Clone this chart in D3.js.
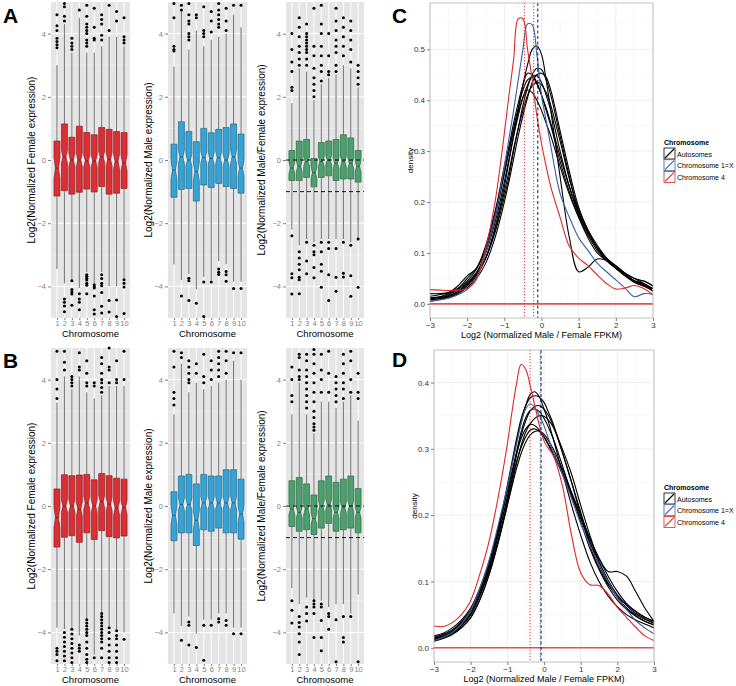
<!DOCTYPE html>
<html><head><meta charset="utf-8">
<script src="https://cdn.jsdelivr.net/npm/d3@7"></script>
<style>body{margin:0;background:#fff;} svg text{font-family:"Liberation Sans",Arial,Helvetica,sans-serif;}</style>
</head><body><svg id="chart" width="736" height="686"></svg>
<script>
const chromosomes = ["1","2","3","4","5","6","7","8","9","10"];
const boxYTicks = [-4,-2,0,2,4];
const boxYMinor = [-3,-1,1,3];
// box stats per chromosome: [lowerWhisker, q1, median, q3, upperWhisker, notchHalf]
const femaleA = [[-3.45,-1.14,-0.26,0.6,3.0,0.32],[-3.9,-0.97,0.1,1.14,4.3,0.2],[-3.8,-1.08,0.0,0.72,3.4,0.22],[-4.05,-1.02,0.0,1.07,4.5,0.22],[-3.55,-0.92,-0.03,0.87,3.4,0.18],[-3.9,-1.01,-0.03,0.8,3.4,0.2],[-3.55,-0.84,0.1,1.03,3.6,0.18],[-4.0,-1.08,0.02,0.97,3.9,0.22],[-4.0,-1.05,-0.05,0.9,3.9,0.25],[-3.75,-0.9,-0.1,0.87,3.6,0.25]];
const femaleAOut = [[3.55,3.65,3.75,3.85,4.1,4.25,4.6],[4.4,4.55,4.85,4.95,-4.4,-4.5,-4.62,-4.8],[3.5,3.6,3.7,3.85,-3.82,-4.1,-4.18,-4.24,-4.6],[4.75,-4.23,-4.4,-4.5,-4.74],[3.6,3.7,3.8,4.0,4.1,4.2,4.3,4.55,4.9,-3.63,-3.68,-3.74,-3.8,-3.9,-3.96,-4.23],[3.8,3.85,4.2,4.8,-3.95,-4.0,-4.05,-4.3,-4.74,-4.87],[3.8,3.95,4.3,4.45,4.6,-3.63,-3.75,-3.9,-3.98,-4.19,-4.63,-4.84],[4.1,4.9,-4.45,-4.81],[4.4,4.7,-4.43,-4.95],[3.7,3.8,3.9,4.5,-3.79,-3.9,-4.02,-4.86]];
const maleA = [[-3.3,-1.18,-0.32,0.5,2.95,0.3],[-3.8,-0.93,0.1,1.21,4.7,0.22],[-3.6,-0.9,0.0,0.9,3.5,0.2],[-4.1,-1.3,-0.37,0.58,4.1,0.3],[-3.7,-0.79,0.08,1.0,3.6,0.2],[-3.8,-0.87,0.05,0.86,3.8,0.2],[-3.2,-0.74,0.08,0.97,3.9,0.2],[-3.3,-0.84,0.0,1.03,4.0,0.2],[-3.85,-0.9,0.1,1.14,4.6,0.22],[-3.85,-1.05,-0.26,0.82,4.2,0.25]];
const maleAOut = [[3.45,3.5,3.6,4.5,4.95],[4.75,4.9,-4.3],[3.8,3.9,4.0,4.3,4.4,4.6,4.95,-3.74,-3.82,-4.45],[4.5,4.6,-4.53],[3.9,4.0,4.1,4.85,-3.86,-4.95],[4.05,4.4,4.7,-3.86],[4.2,4.3,4.45,4.6,4.75,4.95,-3.45,-3.55,-3.62],[4.1,4.4,4.8,-3.53,-3.63,-3.84],[4.9,-4.07],[4.9,-4.07]];
const ratioA = [[-2.2,-0.65,-0.25,0.3,1.8,0.2],[-2.7,-0.65,-0.2,0.6,2.9,0.18],[-2.5,-0.55,-0.05,0.65,2.8,0.15],[-2.6,-0.85,-0.4,0.05,1.9,0.2],[-2.5,-0.55,-0.05,0.55,2.4,0.16],[-2.5,-0.5,0.0,0.6,2.6,0.16],[-2.5,-0.65,-0.1,0.65,2.7,0.18],[-2.5,-0.6,-0.05,0.8,3.0,0.18],[-2.6,-0.6,-0.1,0.7,2.9,0.18],[-2.5,-0.7,-0.2,0.3,2.3,0.18]];
const ratioAOut = [[2.2,2.3,2.8,3.1,3.5,4.0,-2.4,-3.6,-3.73,-4.24],[3.0,3.2,3.4,3.6,3.9,4.2,4.5,-2.9,-3.1,-3.3,-3.47,-3.71,-3.79,-4.23],[3.0,3.2,3.4,3.5,3.6,3.7,3.8,3.9,4.0,4.3,-2.6,-3.2,-3.6],[2.0,2.2,2.4,2.6,2.9,3.3,3.6,4.8,-2.7,-2.9,-3.0,-3.4,-3.73],[2.5,2.8,3.0,3.3,3.6,4.0,4.3,4.9,-2.6,-2.9,-3.3,-3.52,-4.03],[2.7,2.8,3.3,4.0,-2.6,-2.8,-3.63,-4.45],[2.8,3.0,3.4,3.6,3.8,4.1,4.4,4.8,-2.8,-3.71,-4.15],[3.3,3.6,3.9,4.2,4.5,-2.6,-3.58,-3.7],[3.1,3.5,3.8,4.1,4.4,-2.7,-3.66,-4.31],[2.4,2.6,2.8,3.0,-2.5,-4.03]];
const femaleB = [[-3.85,-1.3,-0.36,0.54,3.27,0.32],[-3.9,-0.99,0.0,0.99,4.1,0.2],[-3.85,-0.94,0.0,0.96,3.7,0.2],[-4.1,-1.15,-0.1,0.98,4.1,0.22],[-3.6,-0.85,0.1,1.0,3.6,0.2],[-4.7,-1.06,0.0,0.83,3.4,0.22],[-3.4,-0.78,0.14,1.03,3.5,0.2],[-3.8,-0.97,0.06,0.96,3.8,0.22],[-3.9,-1.01,-0.07,0.88,3.8,0.22],[-4.0,-0.95,-0.05,0.85,3.8,0.22]];
const femaleBOut = [[3.4,3.7,4.0,4.9,-4.5,-4.6,-4.7,-4.9],[4.3,4.55,4.9,-4.0,-4.15,-4.3,-4.45,-4.6,-4.75,-4.9],[3.8,3.9,4.0,4.1,-3.9,-4.05,-4.2,-4.35,-4.5,-4.65,-4.8,-4.95],[4.3,4.4,4.85,-4.4,-4.5,-4.6],[3.8,3.9,4.2,4.6,-3.6,-3.7,-3.8,-3.9,-4.0,-4.1,-4.3,-4.5,-4.7,-4.85,-4.95],[3.8,3.9,-4.8],[3.6,3.75,3.9,4.0,4.2,4.5,4.7,-3.4,-3.5,-3.6,-3.7,-3.8,-3.9,-4.0,-4.1,-4.2,-4.3,-4.5,-4.8],[3.9,4.3,4.4,5.0,-3.85,-4.0,-4.2,-4.4,-4.6,-4.8,-4.95],[3.9,4.0,4.6,-3.95,-4.1,-4.2,-4.4,-4.6,-4.8,-4.95],[4.0,4.9,-4.22]];
const maleB = [[-3.4,-1.1,-0.3,0.45,2.9,0.3],[-3.8,-0.85,0.05,0.95,4.5,0.2],[-3.5,-0.85,0.05,1.0,3.6,0.2],[-4.04,-1.25,-0.45,0.7,3.9,0.3],[-3.6,-0.75,0.1,1.0,3.7,0.2],[-3.6,-0.8,0.1,0.95,3.8,0.2],[-3.4,-0.7,0.1,0.95,3.9,0.2],[-3.4,-0.85,0.1,1.15,4.0,0.2],[-3.85,-0.85,0.1,1.15,4.6,0.22],[-3.85,-1.05,-0.25,0.85,4.0,0.25]];
const maleBOut = [[3.2,3.4,3.6,4.4,4.9],[4.7,4.85,-4.25],[3.9,4.0,4.2,4.4,4.6,-3.67,-3.77,-4.4],[4.2,4.5,-4.48],[3.9,4.1,4.8,-3.77,-4.88],[4.0,4.3,4.6,-3.77],[4.1,4.3,4.5,4.7,4.9,-3.57,-3.67],[4.2,4.6,4.9,-3.62,-3.77],[4.85,-4.04],[4.85,-4.04]];
const ratioB = [[-2.6,-0.65,-0.1,0.8,2.9,0.18],[-3.1,-0.8,-0.2,0.9,3.9,0.18],[-2.9,-0.75,-0.1,0.7,2.9,0.18],[-3.0,-0.9,-0.4,0.35,2.3,0.2],[-3.0,-0.7,0.0,0.8,3.3,0.18],[-3.2,-0.55,0.05,0.95,3.3,0.18],[-3.1,-0.8,-0.2,0.75,3.1,0.18],[-3.1,-0.75,-0.05,0.85,3.3,0.18],[-3.4,-0.7,0.0,0.95,3.5,0.18],[-2.8,-0.85,-0.2,0.55,2.7,0.18]];
const ratioBOut = [[3.3,3.5,4.0,4.4,-3.0,-3.3,-3.7],[4.0,4.1,4.3,4.7,4.8,-3.5,-3.69,-3.83,-4.04,-4.3,-4.7],[3.1,3.3,3.5,3.7,3.9,4.1,4.3,4.6,4.8,-3.2,-3.4,-3.64],[2.4,2.5,2.6,2.8,3.0,3.3,3.6,3.9,4.2,4.5,4.8,4.95,-3.0,-3.1,-3.2,-3.4,-4.16],[3.6,4.0,4.3,4.8,-3.1,-3.2,-3.62,-4.16,-4.58],[3.6,4.2,4.9,-3.4,-3.5,-3.9],[3.3,3.5,3.7,3.9,4.1,-3.6,-4.93],[3.4,3.7,3.9,4.2,4.5,4.8,-3.5,-4.16,-4.3],[3.6,4.0,4.6,4.9,-3.5],[3.4,3.6,4.2,-4.93]];

// density panels
const densX = [-3,-2.75,-2.5,-2.25,-2,-1.75,-1.5,-1.25,-1,-0.875,-0.75,-0.625,-0.5,-0.375,-0.25,-0.125,0,0.125,0.25,0.5,0.75,1,1.25,1.5,1.75,2,2.25,2.5,2.75,3];
const densXTicks = [-3,-2,-1,0,1,2,3];
const densCYTicks = [0,0.1,0.2,0.3,0.4,0.5];
const densDYTicks = [0,0.1,0.2,0.3,0.4];
const densCAuto = [
 [0.008,0.01,0.014,0.022,0.035,0.055,0.09,0.15,0.23,0.28,0.33,0.38,0.43,0.47,0.5,0.507,0.49,0.44,0.38,0.25,0.13,0.063,0.072,0.088,0.085,0.07,0.055,0.044,0.036,0.03],
 [0.01,0.012,0.016,0.025,0.04,0.06,0.09,0.14,0.21,0.25,0.3,0.345,0.39,0.425,0.45,0.463,0.46,0.44,0.41,0.33,0.25,0.18,0.14,0.11,0.085,0.07,0.058,0.045,0.038,0.03],
 [0.012,0.014,0.02,0.03,0.045,0.068,0.11,0.18,0.27,0.31,0.355,0.395,0.43,0.453,0.45,0.435,0.41,0.38,0.35,0.28,0.22,0.17,0.13,0.1,0.085,0.075,0.06,0.045,0.04,0.025],
 [0.015,0.018,0.022,0.035,0.055,0.07,0.115,0.18,0.26,0.3,0.34,0.375,0.405,0.42,0.415,0.4,0.38,0.355,0.33,0.27,0.215,0.17,0.135,0.105,0.085,0.07,0.058,0.045,0.045,0.035],
 [0.01,0.013,0.018,0.028,0.042,0.062,0.1,0.16,0.24,0.285,0.33,0.37,0.405,0.43,0.447,0.448,0.435,0.41,0.38,0.3,0.23,0.175,0.14,0.11,0.09,0.075,0.06,0.05,0.04,0.03],
 [0.02,0.02,0.022,0.03,0.05,0.07,0.105,0.17,0.255,0.3,0.345,0.385,0.42,0.44,0.445,0.432,0.41,0.385,0.355,0.29,0.23,0.18,0.14,0.11,0.09,0.07,0.055,0.045,0.035,0.025],
 [0.008,0.01,0.015,0.024,0.038,0.058,0.09,0.145,0.22,0.26,0.305,0.345,0.38,0.41,0.428,0.435,0.43,0.415,0.39,0.32,0.245,0.185,0.145,0.115,0.09,0.072,0.06,0.05,0.045,0.035],
 [0.005,0.008,0.012,0.02,0.032,0.05,0.08,0.13,0.2,0.24,0.285,0.33,0.37,0.405,0.435,0.45,0.453,0.445,0.42,0.34,0.26,0.19,0.145,0.11,0.088,0.07,0.055,0.042,0.035,0.03]];
const densCX1 = [0.005,0.008,0.011,0.018,0.028,0.052,0.1,0.17,0.27,0.325,0.38,0.44,0.5,0.55,0.548,0.49,0.41,0.36,0.31,0.217,0.17,0.13,0.105,0.08,0.063,0.047,0.031,0.014,0.02,0.019];
const densCChr4 = [0.028,0.027,0.026,0.027,0.03,0.048,0.11,0.2,0.335,0.41,0.48,0.56,0.56,0.5,0.44,0.37,0.315,0.27,0.23,0.17,0.113,0.09,0.075,0.057,0.04,0.029,0.031,0.036,0.03,0.018];
const densDAuto = [
 [0.012,0.016,0.022,0.033,0.05,0.08,0.12,0.175,0.24,0.275,0.31,0.34,0.365,0.382,0.386,0.378,0.36,0.34,0.315,0.265,0.215,0.17,0.13,0.1,0.078,0.062,0.05,0.042,0.036,0.03],
 [0.015,0.02,0.027,0.038,0.055,0.085,0.125,0.18,0.245,0.28,0.315,0.345,0.365,0.377,0.38,0.378,0.37,0.355,0.338,0.295,0.25,0.205,0.16,0.125,0.097,0.076,0.06,0.05,0.043,0.037],
 [0.01,0.014,0.02,0.03,0.045,0.072,0.11,0.16,0.22,0.255,0.29,0.32,0.342,0.357,0.364,0.365,0.36,0.35,0.335,0.295,0.25,0.2,0.155,0.12,0.095,0.078,0.065,0.055,0.046,0.04],
 [0.014,0.018,0.025,0.036,0.052,0.08,0.118,0.168,0.228,0.262,0.295,0.325,0.347,0.358,0.36,0.356,0.346,0.332,0.316,0.275,0.232,0.19,0.15,0.118,0.092,0.072,0.058,0.048,0.04,0.034],
 [0.018,0.022,0.03,0.042,0.06,0.09,0.13,0.18,0.235,0.265,0.293,0.315,0.33,0.337,0.335,0.328,0.318,0.305,0.292,0.262,0.228,0.195,0.16,0.13,0.102,0.08,0.064,0.052,0.044,0.038],
 [0.016,0.02,0.027,0.04,0.057,0.086,0.125,0.172,0.225,0.254,0.28,0.302,0.318,0.328,0.33,0.326,0.318,0.307,0.295,0.265,0.232,0.2,0.165,0.135,0.108,0.085,0.067,0.055,0.046,0.04],
 [0.013,0.017,0.024,0.035,0.05,0.078,0.115,0.162,0.215,0.243,0.27,0.293,0.31,0.321,0.326,0.327,0.322,0.312,0.3,0.27,0.235,0.2,0.165,0.135,0.115,0.115,0.108,0.085,0.06,0.04],
 [0.011,0.015,0.021,0.031,0.046,0.073,0.11,0.158,0.215,0.247,0.278,0.305,0.325,0.338,0.346,0.35,0.349,0.343,0.333,0.3,0.262,0.215,0.17,0.13,0.1,0.077,0.06,0.048,0.04,0.035]];
const densDX1 = [0.011,0.016,0.023,0.036,0.056,0.09,0.131,0.185,0.242,0.275,0.307,0.338,0.36,0.368,0.362,0.35,0.335,0.315,0.295,0.262,0.225,0.187,0.155,0.126,0.1,0.076,0.058,0.041,0.03,0.021];
const densDChr4 = [0.033,0.032,0.038,0.05,0.071,0.111,0.16,0.227,0.307,0.355,0.398,0.427,0.42,0.395,0.365,0.335,0.312,0.3,0.29,0.245,0.17,0.113,0.095,0.094,0.081,0.061,0.046,0.031,0.018,0.011];
// vertical reference lines (medians): [autosomes, 1=X, chr4]
const vlinesC = [-0.1,-0.21,-0.46];
const vlinesD = [-0.08,-0.1,-0.38];
const legendLabels = ["Autosomes","Chromosome 1=X","Chromosome 4"];
const legendColors = ["#000000","#3B5DA6","#E0262C"];

const svg = d3.select("#chart");
svg.append("rect").attr("width",736).attr("height",686).attr("fill","#fff");

function boxPanel(x0,x1,yTop,yBot,stats,outs,fill,title,titleX,dashed){
  const x = d3.scalePoint().domain(chromosomes).range([x0,x1]).padding(0.8);
  const y = d3.scaleLinear().domain([-5,5]).range([yBot,yTop]);
  const g = svg.append("g");
  g.append("rect").attr("x",x0).attr("y",yTop).attr("width",x1-x0).attr("height",yBot-yTop).attr("fill","#E5E5E5");
  g.selectAll(".mn").data(boxYMinor).enter().append("line").attr("x1",x0).attr("x2",x1).attr("y1",d=>y(d)).attr("y2",d=>y(d)).attr("stroke","#F2F2F2").attr("stroke-width",0.5);
  g.selectAll(".mj").data(boxYTicks).enter().append("line").attr("x1",x0).attr("x2",x1).attr("y1",d=>y(d)).attr("y2",d=>y(d)).attr("stroke","#fff").attr("stroke-width",1);
  g.selectAll(".vg").data(chromosomes).enter().append("line").attr("x1",d=>x(d)).attr("x2",d=>x(d)).attr("y1",yTop).attr("y2",yBot).attr("stroke","#fff").attr("stroke-width",1);
  const bw = x.step()*0.8;
  const stroke = d3.color(fill).darker(1.3).formatHex();
  chromosomes.forEach((c,i)=>{
    const [lo,q1,md,q3,hi,nh] = stats[i];
    const cx = x(c), xl = cx-bw/2, xr = cx+bw/2, ind = bw*0.25;
    g.append("line").attr("x1",cx).attr("x2",cx).attr("y1",y(hi)).attr("y2",y(q3)).attr("stroke","#4d4d4d").attr("stroke-width",0.8);
    g.append("line").attr("x1",cx).attr("x2",cx).attr("y1",y(q1)).attr("y2",y(lo)).attr("stroke","#4d4d4d").attr("stroke-width",0.8);
    const pts = [[xl,y(q3)],[xl,y(md+nh)],[xl+ind,y(md)],[xl,y(md-nh)],[xl,y(q1)],[xr,y(q1)],[xr,y(md-nh)],[xr-ind,y(md)],[xr,y(md+nh)],[xr,y(q3)]];
    g.append("path").attr("d",d3.line()(pts)+"Z").attr("fill",fill).attr("stroke",stroke).attr("stroke-width",0.7);
    g.append("line").attr("x1",xl+ind).attr("x2",xr-ind).attr("y1",y(md)).attr("y2",y(md)).attr("stroke",stroke).attr("stroke-width",1.2);
    g.selectAll(null).data(outs[i]).enter().append("circle").attr("cx",cx).attr("cy",d=>y(d)).attr("r",1.5).attr("fill","#000");
  });
  if(dashed){
    dashed.forEach(v=>g.append("line").attr("x1",x0).attr("x2",x1).attr("y1",y(v)).attr("y2",y(v)).attr("stroke","#000").attr("stroke-width",0.9).attr("stroke-dasharray","4,3"));
  }
  const ay = g.append("g").attr("transform",`translate(${x0},0)`).call(d3.axisLeft(y).tickValues(boxYTicks).tickSize(3).tickPadding(2).tickFormat(d=>d<0?"\u2212"+Math.abs(d):d));
  const ax = g.append("g").attr("transform",`translate(0,${yBot})`).call(d3.axisBottom(x).tickSize(2).tickPadding(1));
  [ay,ax].forEach(a=>{a.select(".domain").remove(); a.selectAll("line").attr("stroke","#7f7f7f"); a.selectAll("text").attr("fill","#7f7f7f").style("font-size","7.5px");});
  g.append("text").attr("x",(x0+x1)/2).attr("y",yBot+19).attr("text-anchor","middle").style("font-size","9.5px").text("Chromosome");
  g.append("text").attr("transform",`translate(${titleX},${(yTop+yBot)/2}) rotate(-90)`).attr("text-anchor","middle").style("font-size","10px").text(title);
}

const rowA = [2,318], rowB = [348,664];
boxPanel(51,130,rowA[0],rowA[1],femaleA,femaleAOut,"#D93036","Log2(Normalized Female expression)",35,null);
boxPanel(168,247,rowA[0],rowA[1],maleA,maleAOut,"#36A3D6","Log2(Normalized Male expression)",152,null);
boxPanel(286,364,rowA[0],rowA[1],ratioA,ratioAOut,"#4BA06E","Log2(Normalized Male/Female expression)",265,[0,-1]);
boxPanel(51,130,rowB[0],rowB[1],femaleB,femaleBOut,"#D93036","Log2(Normalized Female expression)",35,null);
boxPanel(168,247,rowB[0],rowB[1],maleB,maleBOut,"#36A3D6","Log2(Normalized Male expression)",152,null);
boxPanel(286,364,rowB[0],rowB[1],ratioB,ratioBOut,"#4BA06E","Log2(Normalized Male/Female expression)",265,[0,-1]);

function densPanel(x0,x1,yTop,yBot,yDom,yTicks,auto,x1c,chr4,vl,legY,id){
  const x = d3.scaleLinear().domain([-3,3]).range([x0,x1]);
  const y = d3.scaleLinear().domain(yDom).range([yBot,yTop]);
  const g = svg.append("g");
  g.append("clipPath").attr("id",id).append("rect").attr("x",x0).attr("y",yTop).attr("width",x1-x0).attr("height",yBot-yTop);
  g.append("rect").attr("x",x0).attr("y",yTop).attr("width",x1-x0).attr("height",yBot-yTop).attr("fill","#fff");
  const xMinor = d3.range(-2.5,3,1), yMinor = yTicks.map(d=>d+0.05).filter(d=>d<yDom[1]);
  xMinor.forEach(v=>g.append("line").attr("x1",x(v)).attr("x2",x(v)).attr("y1",yTop).attr("y2",yBot).attr("stroke","#F5F5F5").attr("stroke-width",0.6));
  yMinor.forEach(v=>g.append("line").attr("x1",x0).attr("x2",x1).attr("y1",y(v)).attr("y2",y(v)).attr("stroke","#F5F5F5").attr("stroke-width",0.6));
  densXTicks.forEach(v=>g.append("line").attr("x1",x(v)).attr("x2",x(v)).attr("y1",yTop).attr("y2",yBot).attr("stroke","#EBEBEB").attr("stroke-width",0.8));
  yTicks.forEach(v=>g.append("line").attr("x1",x0).attr("x2",x1).attr("y1",y(v)).attr("y2",y(v)).attr("stroke","#EBEBEB").attr("stroke-width",0.8));
  const line = d3.line().x((d,i)=>x(densX[i])).y(d=>y(d)).curve(d3.curveCatmullRom.alpha(0.5));
  const cg = g.append("g").attr("clip-path",`url(#${id})`);
  auto.forEach(s=>cg.append("path").attr("d",line(s)).attr("fill","none").attr("stroke","#000").attr("stroke-width",1.1));
  cg.append("path").attr("d",line(x1c)).attr("fill","none").attr("stroke",legendColors[1]).attr("stroke-width",1.1);
  cg.append("path").attr("d",line(chr4)).attr("fill","none").attr("stroke",legendColors[2]).attr("stroke-width",1.1);
  cg.append("line").attr("x1",x0).attr("x2",x1).attr("y1",y(0)).attr("y2",y(0)).attr("stroke","#E0262C").attr("stroke-width",1.6).attr("stroke-opacity",0.8);
  vl.forEach((v,i)=>cg.append("line").attr("x1",x(v)).attr("x2",x(v)).attr("y1",yTop).attr("y2",yBot).attr("stroke",legendColors[i]).attr("stroke-width",0.9).attr("stroke-dasharray",i===0?"3,2.5":"1.3,1.7"));
  g.append("rect").attr("x",x0).attr("y",yTop).attr("width",x1-x0).attr("height",yBot-yTop).attr("fill","none").attr("stroke","#B3B3B3").attr("stroke-width",0.8);
  const ay = g.append("g").attr("transform",`translate(${x0},0)`).call(d3.axisLeft(y).tickValues(yTicks).tickSize(3).tickPadding(2).tickFormat(d3.format(".1f")));
  const ax = g.append("g").attr("transform",`translate(0,${yBot})`).call(d3.axisBottom(x).tickValues(densXTicks).tickSize(3).tickPadding(1).tickFormat(d=>d<0?"\u2212"+Math.abs(d):d));
  [ay,ax].forEach(a=>{a.select(".domain").remove(); a.selectAll("line").attr("stroke","#7f7f7f"); a.selectAll("text").attr("fill","#333").style("font-size","8px");});
  g.append("text").attr("x",(x0+x1)/2).attr("y",yBot+20).attr("text-anchor","middle").style("font-size","9px").text("Log2 (Normalized Male / Female FPKM)");
  g.append("text").attr("transform",`translate(${x0-17},${(yTop+yBot)/2}) rotate(-90)`).attr("text-anchor","middle").style("font-size","8px").text("density");
  // legend
  const lx = 664;
  g.append("text").attr("x",lx).attr("y",legY).style("font-size","7px").style("font-weight","bold").text("Chromosome");
  legendLabels.forEach((lab,i)=>{
    const ky = legY+3+i*11.7;
    g.append("rect").attr("x",lx).attr("y",ky).attr("width",11).attr("height",11).attr("fill","#fff").attr("stroke",legendColors[i]).attr("stroke-width",0.8);
    g.append("line").attr("x1",lx+1).attr("y1",ky+10).attr("x2",lx+10).attr("y2",ky+1).attr("stroke",legendColors[i]).attr("stroke-width",1.1);
    g.append("text").attr("x",lx+13).attr("y",ky+8.5).style("font-size","7px").text(lab);
  });
}
densPanel(430,653,3,318,[-0.0278,0.591],densCYTicks,densCAuto,densCX1,densCChr4,vlinesC,145,"clipC");
densPanel(434,654,350,662,[-0.0214,0.449],densDYTicks,densDAuto,densDX1,densDChr4,vlinesD,490,"clipD");

[["A",3,23],["B",3,368],["C",392,23],["D",392,367]].forEach(([t,x,y])=>svg.append("text").attr("x",x).attr("y",y).style("font-size","21px").style("font-weight","bold").text(t));
</script></body></html>
